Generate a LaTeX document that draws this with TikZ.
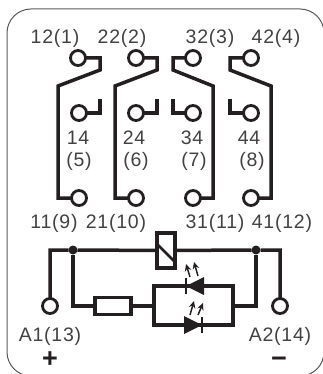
\documentclass[tikz,border=0pt]{standalone}
\usepackage{fontspec}
\setmainfont{Liberation Sans}[LetterSpace=4]
\newfontfamily\signfont{Liberation Sans}[Scale=1]
\usetikzlibrary{arrows.meta}
\definecolor{ink}{HTML}{231F20}
\tikzset{
  wire/.style={line width=3.5pt,ink},
  term/.style={circle,draw=ink,fill=white,line width=2.8pt,minimum size=15pt,inner sep=0pt,outer sep=0pt},
  box/.style={rectangle,draw=ink,fill=white,line width=3.5pt,inner sep=0pt,outer sep=0pt},
  dot/.style={circle,fill=ink,minimum size=9pt,inner sep=0pt,outer sep=0pt},
  lbl/.style={text=ink!85,font=\fontsize{19.5}{19.5}\selectfont,inner sep=0pt,text height=13pt,text depth=0pt,yshift=-2pt},
  sign/.style={text=ink,font=\fontsize{27}{27}\selectfont\bfseries\signfont,inner sep=0pt},
  ray/.style={line width=1.5pt,ink,-{Stealth[length=7pt,width=6.5pt]}}
}
\begin{document}
\begin{tikzpicture}[x=1pt,y=-1pt]
  \useasboundingbox (0,0) rectangle (323,374);
  \draw[gray!70!black,line width=1pt,rounded corners=24pt] (7,9) rectangle (324,376);
  \foreach \n/\x/\y in {t12/78/58,t22/136/58,t32/193/58,t42/251/58,t14/79/113,t24/136/113,t34/193/113,t44/251/113,t11/79/198,t21/136/198,t31/193/198,t41/251/198,ta1/50/306,ta2/280/306}
    \node[term] (\n) at (\x,\y) {};
  \foreach \n/\x/\y/\label in {l12/55/35/12(1),l22/122/35/22(2),l32/210/35/32(3),l42/276/35/42(4),l14/78/136/14,l5/79/158/(5),l24/134/136/24,l6/136/158/(6),l34/192/136/34,l7/194/158/(7),l44/249/136/44,l8/252/158/(8),l11/54/220/11(9),l21/116/220/21(10),l31/215/220/31(11),l41/282/220/41(12),la1/50/333/A1(13),la2/280/333/A2(14)}
    \node[lbl] (\n) at (\x,\y) {\label};
  \node[sign] (plus) at (50,360) {+};
  \node[sign] (minus) at (279,362) {\char"2212};

  \draw[wire] (t12) -- ++(22,0) -- ++(0,12) -- ++(-42,16) |- (t11);
  \draw[wire] (t22) -- ++(21,0) -- ++(0,12) -- ++(-42,16) |- (t21);
  \draw[wire] (t32) -- ++(-20,0) -- ++(0,12) -- ++(40,16) |- (t31);
  \draw[wire] (t42) -- ++(-21,0) -- ++(0,12) -- ++(41,16) |- (t41);
  \draw[wire] (t14) -- ++(21,0) -- ++(0,-14);
  \draw[wire] (t24) -- ++(21,0) -- ++(0,-14);
  \draw[wire] (t34) -- ++(-20,0) -- ++(0,-14);
  \draw[wire] (t44) -- ++(-21,0) -- ++(0,-14);

  \node[dot] (dl) at (73,250) {};
  \node[dot] (dr) at (256,250) {};
  \node[box,minimum width=18pt,minimum height=35pt] (coil) at (166,250.5) {};
  \node[box,minimum width=36pt,minimum height=17pt] (res) at (113,306) {};
  \coordinate (cl) at (154,306);
  \coordinate (cr) at (233,306);
  \draw[wire] (ta1) |- (dl) -- (coil) -- (dr) -| (ta2);
  \draw[wire] (dl) |- (res) -- (cl);
  \draw[wire] (dr) |- (cr);
  \draw[wire] (cl) |- (cr |- 0,286) -- (cr |- 0,325) -| (cl);
  \draw[wire,line width=2.8pt] (coil.west |- 0,244) -- (coil.east |- 0,262);

  \coordinate (ledt) at (186,286);
  \coordinate (ledb) at (202,325);
  \fill[ink] (ledt) -- ++(18,-9) -- ++(0,18) -- cycle;
  \fill[ink] (ledb) -- ++(-18,-9) -- ++(0,18) -- cycle;
  \draw[ink,line width=2.4pt] (ledt) ++(0,-8) -- ++(0,16);
  \draw[ink,line width=2.4pt] (ledb) ++(0,-8) -- ++(0,16);
  \draw[ray] (190,277) -- (186,264);
  \draw[ray] (198,276) -- (194,262);
  \draw[ray] (190,315) -- (194,301);
  \draw[ray] (198,315) -- (203,303);
\end{tikzpicture}
\end{document}
